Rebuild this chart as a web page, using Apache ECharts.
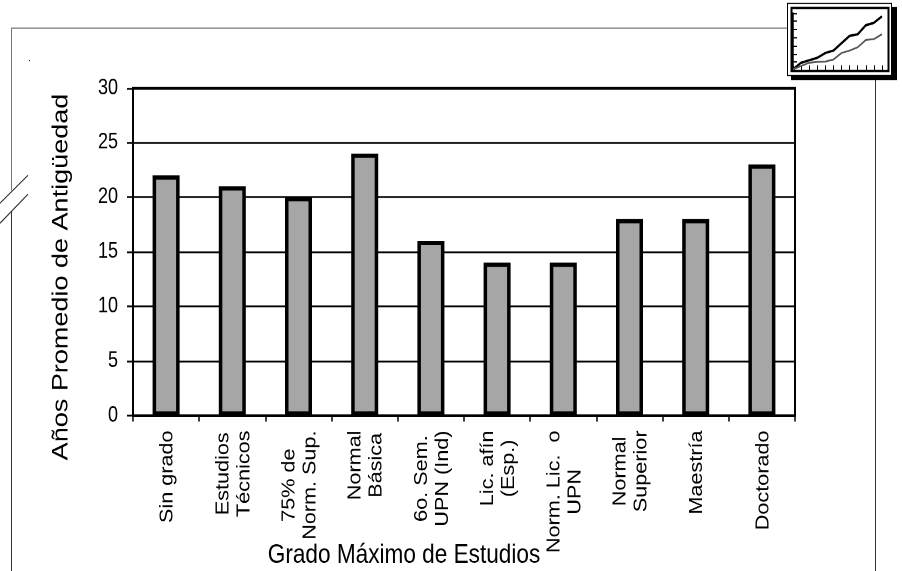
<!DOCTYPE html>
<html><head><meta charset="utf-8">
<style>html,body{margin:0;padding:0;background:#fff;height:571px;width:902px}
#c{width:902px;height:475.83px;transform:scaleY(1.2);transform-origin:0 0}</style>
<script src="https://cdn.jsdelivr.net/npm/echarts@6/dist/echarts.min.js"></script>
</head><body><div id="c"></div>
<script>
const categories = [["Sin grado"],["Estudios","Técnicos"],["75% de","Norm. Sup."],["Normal","Básica"],["6o. Sem.","UPN (Ind)"],["Lic. afín","(Esp.)"],["Norm. Lic.  o","UPN"],["Normal","Superior"],["Maestría"],["Doctorado"]];
const values = [22,21,20,24,16,14,14,18,18,23];
const yTicks = {min:0,max:30,interval:5};
const yTitle = "Años Promedio de Antigüedad";
const xTitle = "Grado Máximo de Estudios";
const iconX = ["1","2","3","4","5","6","7","8","9","10","11","12"];
const iconBlack = [0.1,0.9,1.2,1.5,2.1,2.4,3.3,4.2,4.4,5.5,5.8,6.6];
const iconGray = [0.1,0.5,0.9,1,1.05,1.3,2.1,2.4,2.8,3.7,3.8,4.4];

const S = 1.2, Y = v => v / S;
const FONT = '"Liberation Sans", Arial, sans-serif';
const LABEL_SIZE = 18;
const ctx = document.createElement('canvas').getContext('2d');
ctx.font = LABEL_SIZE + 'px "Liberation Sans"';
const rich = {};
categories.forEach((lines,i)=>{
  rich['c'+i] = {width: Math.ceil(Math.max(...lines.map(l=>ctx.measureText(l).width))), align:'center',
    fontFamily:FONT, fontSize:LABEL_SIZE, lineHeight:21, color:'#000'};
});
const names = categories.map(l=>l.join(' '));
const chart = echarts.init(document.getElementById('c'),null,{renderer:'canvas',width:902,height:571/S,devicePixelRatio:2});
const frame = {stroke:'#333',lineWidth:1};
chart.setOption({
  animation:false,
  backgroundColor:'#fff',
  graphic:[
    {type:'polyline',silent:true,z:0,shape:{points:[[11.5,Y(190)],[11.5,Y(28)],[787,Y(28)]]},style:{fill:null,stroke:'#777',lineWidth:1}},
    {type:'line',silent:true,z:0,shape:{x1:11.5,y1:Y(211),x2:11.5,y2:Y(571)},style:frame},
    {type:'line',silent:true,z:0,shape:{x1:875.5,y1:Y(76),x2:875.5,y2:Y(571)},style:frame},
    {type:'line',silent:true,z:0,shape:{x1:0,y1:Y(203),x2:28,y2:Y(175)},style:frame},
    {type:'line',silent:true,z:0,shape:{x1:0,y1:Y(223),x2:28,y2:Y(194)},style:frame},
    {type:'rect',silent:true,z:0,shape:{x:29,y:Y(60),width:1,height:1},style:{fill:'#333'}},
    {type:'rect',silent:true,z:0,shape:{x:791,y:Y(7),width:106,height:Y(73)},style:{fill:'#000'}},
    {type:'rect',silent:true,z:0,shape:{x:787.5,y:Y(3.5),width:104,height:Y(72)},style:{fill:'#fff',stroke:'#000',lineWidth:1}},
    {type:'rect',silent:true,z:0,shape:{x:791.5,y:Y(8),width:97,height:Y(63)},style:{fill:'#fff',stroke:'#000',lineWidth:2}}
  ],
  grid:[
    {left:133,top:Y(88),width:662,height:Y(327),outerBoundsMode:'none',show:true,borderColor:'#000',borderWidth:2,backgroundColor:'transparent'},
    {left:793,top:Y(13),width:89,height:Y(57),outerBoundsMode:'none'}
  ],
  xAxis:[
    {type:'category',gridIndex:0,data:names,
     axisLine:{onZero:false,lineStyle:{color:'#000',width:2}},
     axisTick:{show:true,length:5,lineStyle:{color:'#000',width:1.5},alignWithLabel:false},
     splitLine:{show:false},
     axisLabel:{interval:0,rotate:90,margin:12,hideOverlap:false,align:'right',verticalAlign:'middle',padding:[3,0,0,0],
       rich,formatter:(v,i)=>categories[i].map(l=>`{c${i}|${l}}`).join('\n')},
     name:xTitle,nameLocation:'middle',nameGap:105,nameMoveOverlap:false,
     nameTextStyle:{fontFamily:FONT,fontSize:22.6,color:'#000',padding:[0,120,0,0]}},
    {type:'category',gridIndex:1,data:iconX,boundaryGap:false,
     axisLine:{lineStyle:{color:'#000',width:1.5}},
     axisTick:{inside:true,interval:0,length:4,lineStyle:{color:'#000',width:1}},
     axisLabel:{show:false},splitLine:{show:false}}
  ],
  yAxis:[
    {type:'value',gridIndex:0,min:yTicks.min,max:yTicks.max,interval:yTicks.interval,
     axisLine:{show:true,lineStyle:{color:'#000',width:2}},
     axisTick:{show:true,length:6,lineStyle:{color:'#000',width:1.5}},
     splitLine:{show:true,lineStyle:{color:'#000',width:1.5}},
     axisLabel:{fontFamily:FONT,fontSize:18,color:'#000',margin:15},
     name:yTitle,nameLocation:'middle',nameGap:60,nameRotate:90,
     nameTextStyle:{fontFamily:FONT,fontSize:22.5,color:'#000',padding:[0,42,0,0]}},
    {type:'value',gridIndex:1,min:0,max:7,interval:1,
     axisLine:{show:true,lineStyle:{color:'#000',width:1.5}},
     axisTick:{show:true,inside:true,length:4,lineStyle:{color:'#000',width:1}},
     axisLabel:{show:false},splitLine:{show:false}}
  ],
  series:[
    {type:'bar',xAxisIndex:0,yAxisIndex:0,data:values,barWidth:27,
     itemStyle:{color:'#a6a6a6',borderColor:'#000',borderWidth:3.5}},
    {type:'line',xAxisIndex:1,yAxisIndex:1,data:iconBlack,symbol:'none',lineStyle:{color:'#000',width:2},z:5},
    {type:'line',xAxisIndex:1,yAxisIndex:1,data:iconGray,symbol:'none',lineStyle:{color:'#555',width:1.5},z:5}
  ]
});
</script></body></html>
